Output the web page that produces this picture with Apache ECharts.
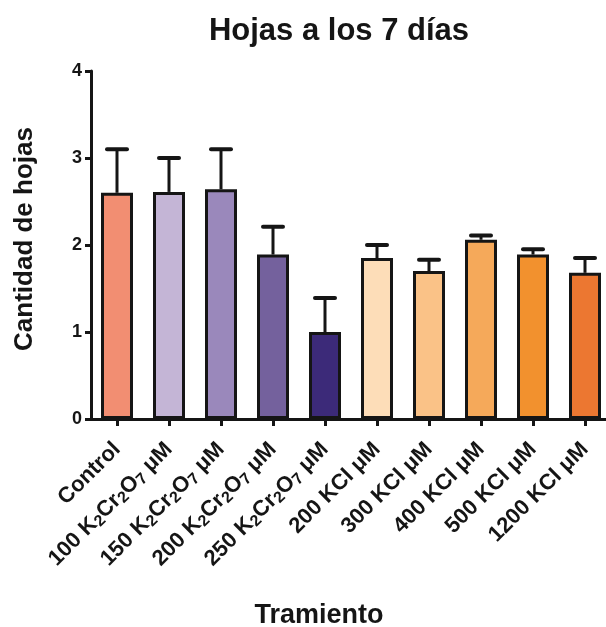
<!DOCTYPE html>
<html>
<head>
<meta charset="utf-8">
<script src="https://cdn.jsdelivr.net/npm/echarts@6/dist/echarts.min.js"></script>
<style>
html,body{margin:0;padding:0;background:#fff;}
#chart{width:606px;height:627px;}
</style>
</head>
<body>
<div id="chart"></div>
<script>
// Treatments (labels use rich-text tags for subscripts)
const categories = [
  'Control',
  '100 K{s|2}Cr{s|2}O{s|7} μM',
  '150 K{s|2}Cr{s|2}O{s|7} μM',
  '200 K{s|2}Cr{s|2}O{s|7} μM',
  '250 K{s|2}Cr{s|2}O{s|7} μM',
  '200 KCl μM',
  '300 KCl μM',
  '400 KCl μM',
  '500 KCl μM',
  '1200 KCl μM'
];
// Mean number of leaves at 7 days
const means = [2.60, 2.61, 2.64, 1.89, 1.00, 1.85, 1.70, 2.06, 1.89, 1.68];
// Upper end of the error bar (mean + error)
const upper = [3.10, 3.00, 3.10, 2.21, 1.39, 2.00, 1.83, 2.11, 1.95, 1.85];
const barColors = ['#F28E72', '#C4B5D6', '#9A88BB', '#74619D', '#3C2A79',
                   '#FDDDB8', '#FAC287', '#F5A95A', '#F2912E', '#EC7731'];
const yTicks = [0, 1, 2, 3, 4];

const FONT = '"Liberation Sans", Arial, sans-serif';
const chart = echarts.init(document.getElementById('chart'), null, {renderer: 'canvas'});

chart.setOption({
  backgroundColor: '#ffffff',
  animation: false,
  title: {
    text: 'Hojas a los 7 días',
    left: 334, top: 11, textAlign: 'center',
    textStyle: {fontFamily: FONT, fontWeight: 'bold', fontSize: 31, color: '#151515'}
  },
  grid: {left: 91, top: 71, width: 520, bottom: 208, containLabel: false, outerBoundsMode: 'none'},
  xAxis: {
    type: 'category',
    data: categories,
    name: 'Tramiento',
    nameLocation: 'middle',
    nameGap: 183,
    nameTextStyle: {fontFamily: FONT, fontWeight: 'bold', fontSize: 27, color: '#151515', padding: [0, 0, 0, -64]},
    axisLine: {lineStyle: {color: '#151515', width: 3}},
    axisTick: {show: true, alignWithLabel: true, length: 7, lineStyle: {color: '#151515', width: 3}},
    axisLabel: {
      rotate: 45, margin: 27, interval: 0,
      fontFamily: FONT, fontWeight: 'bold', fontSize: 22, color: '#151515',
      rich: {
        s: {fontFamily: FONT, fontWeight: 'bold', fontSize: 16, color: '#151515', verticalAlign: 'bottom', padding: [9, 0, 0, 0]}
      }
    }
  },
  yAxis: {
    type: 'value',
    min: yTicks[0], max: yTicks[yTicks.length - 1], interval: 1,
    name: 'Cantidad de hojas',
    nameLocation: 'middle',
    nameGap: 53,
    nameTextStyle: {fontFamily: FONT, fontWeight: 'bold', fontSize: 26, color: '#151515', padding: [0, 0, 0, 12]},
    axisLine: {show: true, lineStyle: {color: '#151515', width: 3}},
    axisTick: {show: true, length: 6, lineStyle: {color: '#151515', width: 3}},
    axisLabel: {fontFamily: FONT, fontWeight: 'bold', fontSize: 18, color: '#151515', margin: 9},
    splitLine: {show: false}
  },
  series: [
    {
      type: 'bar',
      data: means.map((v, i) => ({value: v, itemStyle: {color: barColors[i]}})),
      barWidth: 32,
      itemStyle: {borderColor: '#151515', borderWidth: 3},
      z: 3
    },
    {
      type: 'custom',
      z: 2,
      data: means.map((v, i) => [i, v, upper[i]]),
      renderItem: function (params, api) {
        const base = api.coord([api.value(0), api.value(1)]);
        const top = api.coord([api.value(0), api.value(2)]);
        const half = 10;
        return {
          type: 'group',
          children: [
            {type: 'line', shape: {x1: base[0], y1: base[1], x2: top[0], y2: top[1]},
             style: {stroke: '#151515', lineWidth: 3}},
            {type: 'line', shape: {x1: top[0] - half, y1: top[1], x2: top[0] + half, y2: top[1]},
             style: {stroke: '#151515', lineWidth: 4, lineCap: 'round'}}
          ]
        };
      }
    }
  ]
});
</script>
</body>
</html>
